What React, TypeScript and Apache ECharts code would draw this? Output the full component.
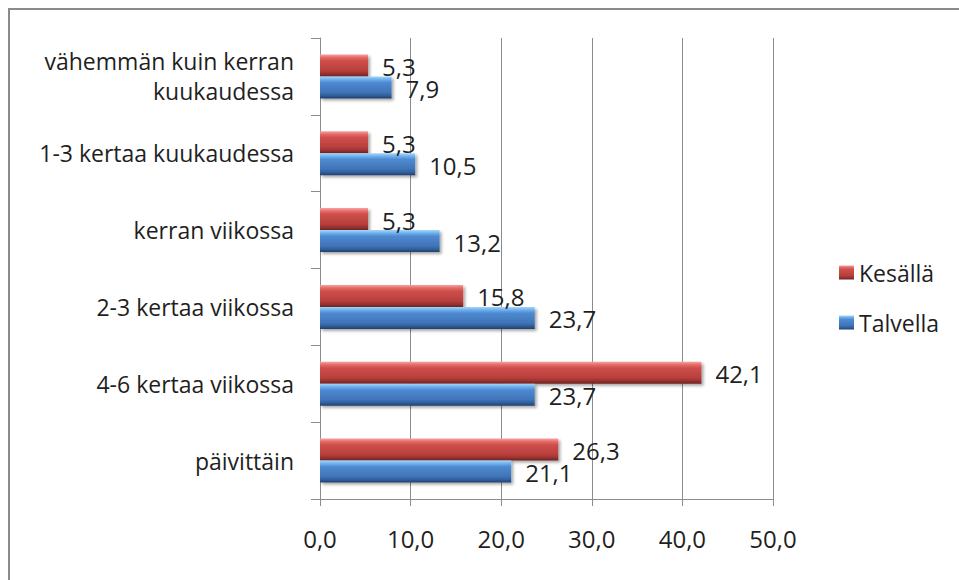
import React, { useEffect, useRef } from "react";
import * as echarts from "echarts";

const categories = [
  "päivittäin",
  "4-6 kertaa viikossa",
  "2-3 kertaa viikossa",
  "kerran viikossa",
  "1-3 kertaa kuukaudessa",
  "vähemmän kuin kerran\nkuukaudessa",
];
const summerValues = [26.3, 42.1, 15.8, 5.3, 5.3, 5.3];
const winterValues = [21.1, 23.7, 23.7, 13.2, 10.5, 7.9];
const seriesNames = ["Kesällä", "Talvella"];
const xTicks = { min: 0, max: 50, interval: 10 };

const FONT = "'Open Sans', 'Noto Sans', sans-serif";
const TEXT = "#1f1f1f";

const grad = (stops: [number, string][]) =>
  new echarts.graphic.LinearGradient(
    0,
    0,
    0,
    1,
    stops.map(([offset, color]) => ({ offset, color }))
  );

const redGrad = () =>
  grad([
    [0, "#f7a3a1"],
    [0.14, "#e46a67"],
    [0.28, "#cf4f4c"],
    [0.72, "#b83f3c"],
    [0.86, "#9a3330"],
    [1, "#6e2220"],
  ]);
const blueGrad = () =>
  grad([
    [0, "#a6d6fc"],
    [0.14, "#6cafee"],
    [0.28, "#4f8ad0"],
    [0.72, "#3f74b8"],
    [0.86, "#32609c"],
    [1, "#213f6c"],
  ]);

const fmt = (v: number) => v.toFixed(1).replace(".", ",");

export default function App() {
  const ref = useRef<HTMLDivElement>(null);
  useEffect(() => {
    if (!ref.current) return;
    const chart = echarts.init(ref.current, null, { renderer: "svg" });
    const labelCfg = {
      show: true,
      position: "right" as const,
      distance: 14,
      offset: [0, 1],
      color: TEXT,
      fontFamily: FONT,
      fontSize: 24,
      formatter: (p: any) => fmt(p.value),
    };
    const shadow = {
      shadowColor: "rgba(0,0,0,0.35)",
      shadowBlur: 3,
      shadowOffsetX: 2,
      shadowOffsetY: 2,
    };
    chart.setOption({
      animation: false,
      backgroundColor: "#ffffff",
      graphic: [
        {
          type: "rect",
          shape: { x: 9, y: 9, width: 1200, height: 1200 },
          style: { fill: "none", stroke: "#8a8a8a", lineWidth: 2 },
          silent: true,
        },
      ],
      grid: { left: 320, right: 186, top: 38, bottom: 81 },
      legend: {
        orient: "vertical",
        left: 839,
        top: 261,
        padding: 0,
        itemWidth: 15,
        itemHeight: 14,
        itemGap: 27,
        icon: "rect",
        data: seriesNames,
        textStyle: { color: TEXT, fontFamily: FONT, fontSize: 23, lineHeight: 22 },
      },
      xAxis: {
        type: "value",
        min: xTicks.min,
        max: xTicks.max,
        interval: xTicks.interval,
        axisLine: { show: true, lineStyle: { color: "#8c8c8c", width: 1 } },
        axisTick: { show: true, length: 7, lineStyle: { color: "#8c8c8c" } },
        splitLine: { show: true, lineStyle: { color: "#8c8c8c", width: 1 } },
        axisLabel: {
          margin: 27,
          color: TEXT,
          fontFamily: FONT,
          fontSize: 24,
          formatter: (v: number) => fmt(v),
        },
      },
      yAxis: {
        type: "category",
        data: categories,
        axisLine: { show: true, lineStyle: { color: "#8c8c8c", width: 1 } },
        axisTick: { show: true, length: 9, lineStyle: { color: "#8c8c8c" } },
        axisLabel: {
          margin: 26,
          color: TEXT,
          fontFamily: FONT,
          fontSize: 23,
          lineHeight: 30,
          align: "right",
        },
      },
      series: [
        {
          name: seriesNames[0],
          type: "bar",
          data: summerValues,
          barWidth: 22,
          barGap: "0%",
          itemStyle: { color: redGrad(), ...shadow },
          label: labelCfg,
        },
        {
          name: seriesNames[1],
          type: "bar",
          data: winterValues,
          barWidth: 22,
          barGap: "0%",
          itemStyle: { color: blueGrad(), ...shadow },
          label: labelCfg,
        },
      ],
    });
    return () => chart.dispose();
  }, []);
  return (
    <div
      ref={ref}
      style={{ position: "absolute", left: 0, top: 0, width: 959, height: 580 }}
    />
  );
}
